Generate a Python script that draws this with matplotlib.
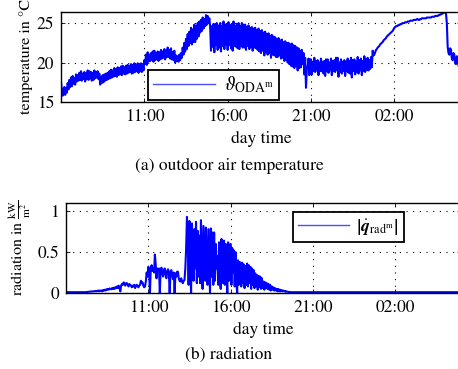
import numpy as np
import matplotlib
matplotlib.use("Agg")
import matplotlib.pyplot as plt

plt.rcParams['font.family'] = ['STIXGeneral', 'DejaVu Serif']
plt.rcParams['mathtext.fontset'] = 'stix'

# sampling grid (hours since 00:00 of day 1), every 0.05 h (20 samples per hour)
t_start, t_step = 6.0, 0.05

temp_values = [
    # 06:00
    17.6, 16.4, 15.8, 16.6, 16.9, 15.9, 16.8, 16.2, 17.4, 16.6, 17.8, 16.9, 18.1, 17.0, 18.3, 17.3, 18.0, 17.2, 18.5, 17.6,
    # 07:00
    18.4, 17.7, 18.7, 17.8, 18.9, 17.7, 18.6, 17.9, 18.8, 17.6, 18.6, 17.9, 19.0, 17.8, 18.9, 18.0, 18.8, 17.7, 18.7, 17.8,
    # 08:00
    19.0, 18.0, 18.8, 18.1, 18.9, 17.9, 18.6, 17.2, 18.2, 17.4, 18.4, 17.5, 18.5, 17.7, 18.6, 17.8, 18.7, 17.9, 18.9, 18.0,
    # 09:00
    19.1, 18.1, 19.0, 18.2, 19.3, 18.3, 19.2, 18.2, 19.4, 18.4, 19.3, 18.5, 19.5, 18.4, 19.6, 18.6, 19.4, 18.5, 19.6, 18.6,
    # 10:00
    19.7, 18.7, 19.6, 18.8, 19.8, 18.6, 19.7, 18.7, 19.9, 18.8, 19.7, 18.9, 19.9, 18.7, 19.8, 18.9, 19.9, 18.8, 19.8, 19.0,
    # 11:00
    20.3, 19.8, 21.0, 19.7, 21.3, 20.1, 21.0, 20.2, 21.2, 20.3, 21.4, 20.1, 21.5, 20.3, 21.2, 20.4, 21.4, 20.2, 21.3, 20.4,
    # 12:00
    21.6, 20.5, 21.4, 20.6, 21.7, 20.4, 21.5, 20.7, 21.9, 20.7, 21.6, 20.5, 21.8, 20.4, 21.3, 20.3, 21.5, 20.0, 20.9, 20.2,
    # 13:00
    20.8, 20.1, 21.0, 20.3, 21.2, 20.6, 21.9, 21.0, 22.5, 21.4, 23.0, 21.7, 23.6, 22.1, 23.9, 22.5, 24.4, 22.3, 24.2, 22.6,
    # 14:00
    24.8, 22.6, 24.6, 23.0, 25.0, 23.3, 25.2, 23.8, 25.4, 24.0, 25.7, 24.3, 25.5, 24.6, 26.0, 24.8, 25.9, 25.0, 25.6, 24.5,
    # 15:00
    21.5, 24.6, 22.0, 24.9, 21.3, 24.8, 22.2, 25.0, 21.6, 24.7, 21.9, 25.0, 21.4, 24.6, 22.1, 25.2, 21.7, 24.8, 22.3, 24.9,
    # 16:00
    21.6, 25.1, 22.2, 24.7, 21.8, 24.9, 21.5, 25.2, 22.1, 24.6, 22.0, 24.9, 21.8, 25.0, 21.7, 24.6, 22.1, 25.0, 21.9, 24.8,
    # 17:00
    21.9, 24.8, 21.6, 24.5, 22.1, 24.7, 21.7, 24.4, 22.0, 24.5, 21.5, 24.3, 21.9, 24.4, 21.8, 24.1, 21.6, 24.3, 21.4, 24.0,
    # 18:00
    21.2, 24.1, 21.5, 23.8, 20.9, 23.9, 21.3, 23.6, 21.0, 23.7, 21.2, 23.4, 20.6, 23.5, 21.0, 23.3, 20.9, 23.2, 20.7, 23.0,
    # 19:00
    20.7, 23.1, 20.9, 22.8, 20.5, 22.9, 20.6, 22.6, 20.2, 22.7, 20.4, 22.5, 20.0, 22.5, 19.8, 22.3, 19.6, 22.4, 19.5, 22.2,
    # 20:00
    19.3, 22.1, 19.6, 21.9, 19.0, 21.8, 19.3, 21.5, 19.4, 21.6, 19.8, 21.2, 18.5, 20.6, 16.8, 19.2, 19.5, 20.5, 18.4, 20.4,
    # 21:00
    20.4, 18.5, 20.1, 18.9, 20.6, 18.8, 20.2, 19.0, 20.3, 18.4, 20.0, 18.9, 20.5, 18.9, 20.1, 18.6, 20.2, 18.3, 20.4, 18.9,
    # 22:00
    20.4, 18.7, 20.0, 19.0, 20.5, 18.4, 20.2, 18.9, 20.3, 18.8, 20.6, 19.1, 20.6, 18.2, 20.0, 18.8, 20.4, 18.6, 20.1, 18.9,
    # 23:00
    20.3, 18.3, 20.1, 18.9, 20.5, 18.7, 20.2, 18.6, 20.6, 18.1, 20.3, 18.9, 20.4, 18.5, 20.1, 18.8, 20.7, 18.6, 20.3, 19.0,
    # 00:00
    20.5, 18.4, 20.2, 18.9, 20.8, 18.8, 20.4, 19.1, 20.6, 19.0, 20.3, 19.2, 20.7, 19.4, 21.5, 20.9, 21.0, 21.3, 21.6, 21.7,
    # 01:00
    21.9, 22.0, 22.1, 22.3, 22.4, 22.5, 22.6, 22.8, 22.9, 23.0, 23.1, 23.3, 23.4, 23.5, 23.6, 23.7, 23.8, 23.9, 24.0, 24.2,
    # 02:00
    24.4, 24.5, 24.6, 24.6, 24.7, 24.7, 24.8, 24.8, 24.9, 24.9, 25.0, 25.0, 25.0, 25.1, 25.1, 25.1, 25.2, 25.2, 25.2, 25.3,
    # 03:00
    25.3, 25.3, 25.3, 25.4, 25.4, 25.4, 25.4, 25.5, 25.5, 25.4, 25.4, 25.5, 25.5, 25.6, 25.6, 25.6, 25.6, 25.6, 25.6, 25.7,
    # 04:00
    25.7, 25.7, 25.7, 25.7, 25.7, 25.8, 25.8, 25.8, 25.8, 25.9, 25.9, 25.9, 25.9, 26.0, 26.0, 26.1, 26.1, 26.2, 26.2, 26.3,
    # 05:00
    26.4, 26.3, 26.2, 25.0, 22.0, 21.2, 21.0, 21.8, 21.6, 20.5, 20.3, 21.2, 21.0, 19.9, 19.8, 20.8, 20.6, 19.6, 19.4, 19.2,
]

rad_values = [
    # 06:00
    0.01, 0.01, 0.01, 0.01, 0.01, 0.01, 0.01, 0.01, 0.01, 0.01, 0.01, 0.01, 0.01, 0.01, 0.01, 0.01, 0.01, 0.01, 0.01, 0.01,
    # 07:00
    0.01, 0.01, 0.01, 0.01, 0.01, 0.012, 0.012, 0.015, 0.015, 0.015, 0.018, 0.02, 0.018, 0.02, 0.022, 0.02, 0.025, 0.02, 0.025, 0.03,
    # 08:00
    0.02, 0.03, 0.025, 0.03, 0.02, 0.035, 0.03, 0.04, 0.03, 0.045, 0.04, 0.05, 0.04, 0.055, 0.05, 0.045, 0.06, 0.05, 0.065, 0.05,
    # 09:00
    0.07, 0.06, 0.08, 0.06, 0.09, 0.07, 0.02, 0.09, 0.11, 0.10, 0.13, 0.11, 0.09, 0.12, 0.12, 0.10, 0.08, 0.11, 0.10, 0.09,
    # 10:00
    0.07, 0.09, 0.08, 0.10, 0.06, 0.09, 0.10, 0.08, 0.07, 0.09, 0.10, 0.15, 0.12, 0.13, 0.09, 0.07, 0.08, 0.14, 0.25, 0.20,
    # 11:00
    0.32, 0.28, 0.0, 0.30, 0.34, 0.27, 0.30, 0.25, 0.47, 0.35, 0.18, 0.30, 0.27, 0.30, 0.0, 0.28, 0.31, 0.24, 0.20, 0.28,
    # 12:00
    0.30, 0.22, 0.18, 0.27, 0.29, 0.25, 0.0, 0.26, 0.28, 0.22, 0.17, 0.25, 0.0, 0.24, 0.20, 0.26, 0.26, 0.18, 0.15, 0.14,
    # 13:00
    0.18, 0.14, 0.12, 0.15, 0.16, 0.30, 0.55, 0.93, 0.70, 0.10, 0.88, 0.40, 0.0, 0.85, 0.60, 0.15, 0.78, 0.30, 0.87, 0.12,
    # 14:00
    0.76, 0.20, 0.70, 0.12, 0.89, 0.35, 0.05, 0.82, 0.50, 0.15, 0.80, 0.25, 0.10, 0.78, 0.40, 0.0, 0.79, 0.20, 0.74, 0.10,
    # 15:00
    0.74, 0.15, 0.60, 0.30, 0.45, 0.10, 0.62, 0.20, 0.05, 0.66, 0.35, 0.12, 0.64, 0.10, 0.60, 0.25, 0.0, 0.62, 0.15, 0.58,
    # 16:00
    0.60, 0.10, 0.55, 0.25, 0.52, 0.08, 0.50, 0.15, 0.0, 0.40, 0.10, 0.38, 0.20, 0.08, 0.37, 0.12, 0.35, 0.06, 0.33, 0.10,
    # 17:00
    0.36, 0.08, 0.34, 0.12, 0.32, 0.05, 0.30, 0.10, 0.28, 0.06, 0.24, 0.08, 0.22, 0.04, 0.21, 0.07, 0.20, 0.05, 0.18, 0.06,
    # 18:00
    0.14, 0.04, 0.13, 0.06, 0.12, 0.05, 0.11, 0.04, 0.10, 0.03, 0.08, 0.04, 0.07, 0.03, 0.06, 0.03, 0.05, 0.02, 0.05, 0.02,
    # 19:00
    0.04, 0.02, 0.035, 0.02, 0.03, 0.02, 0.025, 0.015, 0.02, 0.015, 0.015, 0.012, 0.012, 0.01, 0.01, 0.01, 0.01, 0.01, 0.01, 0.01,
    # 20:00
    0.01, 0.01, 0.01, 0.01, 0.01, 0.01, 0.01, 0.01, 0.01, 0.01, 0.01, 0.01, 0.01, 0.01, 0.01, 0.01, 0.01, 0.01, 0.01, 0.01,
    # 21:00
    0.01, 0.01, 0.01, 0.01, 0.01, 0.01, 0.01, 0.01, 0.01, 0.01, 0.01, 0.01, 0.01, 0.01, 0.01, 0.01, 0.01, 0.01, 0.01, 0.01,
    # 22:00
    0.01, 0.01, 0.01, 0.01, 0.01, 0.01, 0.01, 0.01, 0.01, 0.01, 0.01, 0.01, 0.01, 0.01, 0.01, 0.01, 0.01, 0.01, 0.01, 0.01,
    # 23:00
    0.01, 0.01, 0.01, 0.01, 0.01, 0.01, 0.01, 0.01, 0.01, 0.01, 0.01, 0.01, 0.01, 0.01, 0.01, 0.01, 0.01, 0.01, 0.01, 0.01,
    # 00:00
    0.01, 0.01, 0.01, 0.01, 0.01, 0.01, 0.01, 0.01, 0.01, 0.01, 0.01, 0.01, 0.01, 0.01, 0.01, 0.01, 0.01, 0.01, 0.01, 0.01,
    # 01:00
    0.01, 0.01, 0.01, 0.01, 0.01, 0.01, 0.01, 0.01, 0.01, 0.01, 0.01, 0.01, 0.01, 0.01, 0.01, 0.01, 0.01, 0.01, 0.01, 0.01,
    # 02:00
    0.01, 0.01, 0.01, 0.01, 0.01, 0.01, 0.01, 0.01, 0.01, 0.01, 0.01, 0.01, 0.01, 0.01, 0.01, 0.01, 0.01, 0.01, 0.01, 0.01,
    # 03:00
    0.01, 0.01, 0.01, 0.01, 0.01, 0.01, 0.01, 0.01, 0.01, 0.01, 0.01, 0.01, 0.01, 0.01, 0.01, 0.01, 0.01, 0.01, 0.01, 0.01,
    # 04:00
    0.01, 0.01, 0.01, 0.01, 0.01, 0.01, 0.01, 0.01, 0.01, 0.01, 0.01, 0.01, 0.01, 0.01, 0.01, 0.01, 0.01, 0.01, 0.01, 0.01,
    # 05:00
    0.01, 0.01, 0.01, 0.01, 0.01, 0.01, 0.01, 0.01, 0.01, 0.01, 0.01, 0.01, 0.01, 0.01, 0.01, 0.01, 0.01, 0.01, 0.01, 0.01,
]

xtick_pos = [11, 16, 21, 26]
xtick_labels = ["11:00", "16:00", "21:00", "02:00"]
temp_yticks = [15, 20, 25]
rad_yticks = [0, 0.5, 1]
rad_yticklabels = ["0", "0.5", "1"]

t_temp = t_start + t_step * np.arange(len(temp_values))
t_rad = t_start + t_step * np.arange(len(rad_values))

W, H = 458, 369
fig = plt.figure(figsize=(W / 100, H / 100), dpi=100)

ax1 = fig.add_axes([61 / W, 1 - 102 / H, 400 / W, 90 / H])
ax2 = fig.add_axes([66 / W, 1 - 293 / H, 395 / W, 90 / H])

FS = 12.5
FS_YLAB = 11.6
blue = (0, 0, 1)
LW = 1.5

def style(ax):
    ax.set_xlim(6, 30)
    ax.set_xticks(xtick_pos)
    ax.set_xticklabels(xtick_labels)
    ax.tick_params(direction='in', top=True, right=True, length=3,
                   width=0.6, labelsize=FS, pad=5)
    ax.grid(True, color='black', linestyle=(0, (1, 5)), linewidth=0.8)
    for s in ax.spines.values():
        s.set_linewidth(1.0)
    ax.set_xlabel("day time", fontsize=FS, labelpad=4)

def legend(ax, size, hl, **kw):
    leg = ax.legend(borderaxespad=0, fontsize=size, handlelength=hl,
                    fancybox=False, framealpha=1, edgecolor='black',
                    handletextpad=0.45, **kw)
    leg.get_frame().set_linewidth(1.3)
    for h in leg.get_lines():
        h.set_linewidth(1.0)
        h.set_color((0.3, 0.3, 1.0))
    return leg

ax1.plot(t_temp, temp_values, color=blue, linewidth=LW,
         label=r"$\vartheta_{\mathrm{ODA}^{\mathrm{m}}}$")
style(ax1)
ax1.set_ylim(15, 26.4)
ax1.set_yticks(temp_yticks)
ax1.set_ylabel("temperature in °C", fontsize=FS_YLAB, labelpad=3)
legend(ax1, 14, 3.2, loc='lower left', bbox_to_anchor=(0.2175, 0.02), borderpad=0.25)

ax2.plot(t_rad, rad_values, color=blue, linewidth=LW,
         label=r"$\left|\dot{\boldsymbol{q}}_{\mathrm{rad}^{\mathrm{m}}}\right|$")
style(ax2)
ax2.set_ylim(0, 1.1)
ax2.set_yticks(rad_yticks)
ax2.set_yticklabels(rad_yticklabels)
ax2.set_ylabel(r"radiation in $\frac{\mathrm{kW}}{\mathrm{m}^2}$", fontsize=FS_YLAB, labelpad=3)
legend(ax2, FS, 2.9, loc='upper left', bbox_to_anchor=(0.5747, 0.9), borderpad=0.3)

fig.text(229 / W, 1 - 166 / H, "(a) outdoor air temperature", fontsize=FS,
         ha='center', va='center')
fig.text(229 / W, 1 - 355 / H, "(b) radiation", fontsize=FS,
         ha='center', va='center')

fig.savefig("out.png", dpi=100)
